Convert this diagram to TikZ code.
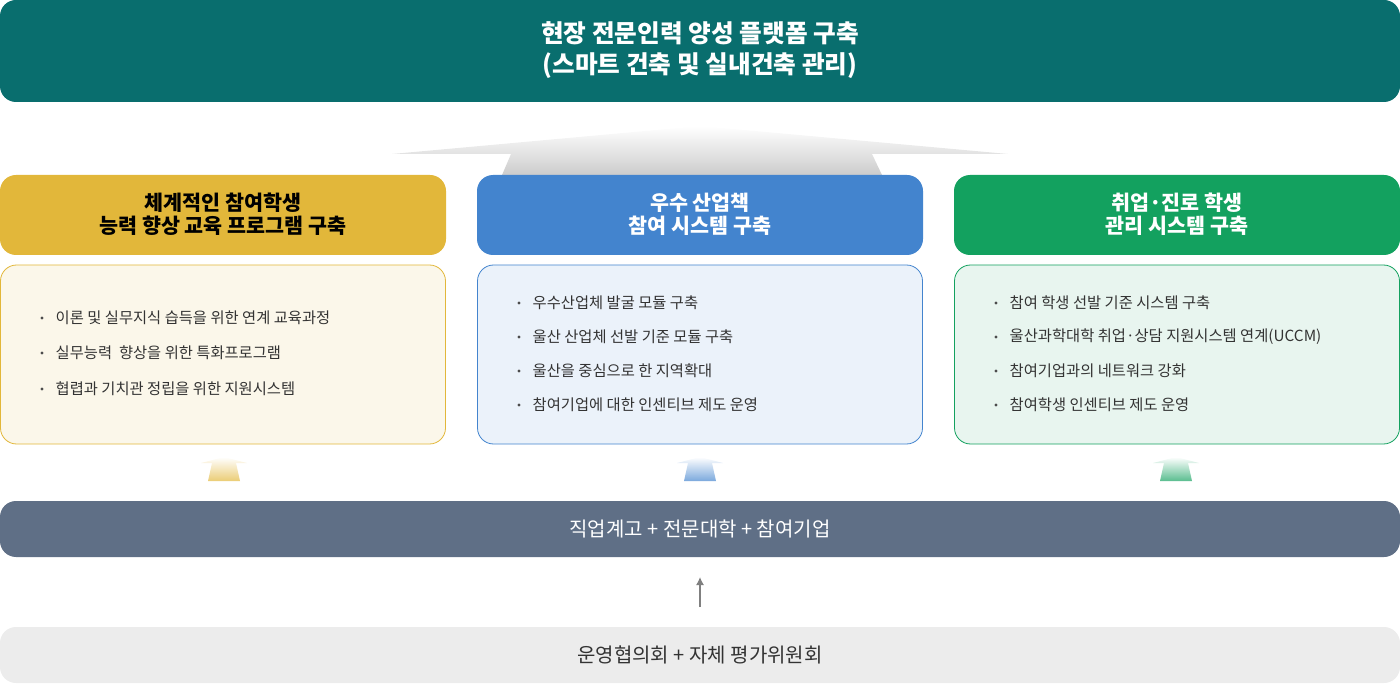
\documentclass[tikz,border=0pt]{standalone}
\usepackage{fontspec}
\setmainfont{Noto Sans CJK KR}
\usetikzlibrary{positioning,arrows.meta}
\definecolor{teal1}{HTML}{096E6E}
\definecolor{yel}{HTML}{E2B73A}
\definecolor{blu}{HTML}{4384CE}
\definecolor{grn}{HTML}{13A15F}
\definecolor{yelbg}{HTML}{FBF7EA}
\definecolor{blubg}{HTML}{EBF2FA}
\definecolor{grnbg}{HTML}{E8F5EF}
\definecolor{slate}{HTML}{5F6F86}
\definecolor{lgray}{HTML}{ECECEC}
\begin{document}
\begin{tikzpicture}[x=0.75pt,y=-0.75pt,
 box/.style={rounded corners=12pt,draw=none},
 ttl/.style={font=\bfseries\fontsize{15.5}{17.5}\selectfont,align=center},
 itm/.style={anchor=west,font=\fontsize{11.5}{13}\selectfont,text=black!80},
 bul/.style={circle,fill=black!70,inner sep=0pt,minimum size=2.5pt}]
\useasboundingbox (0,0) rectangle (1400,684);
% header
\fill[teal1,rounded corners=12pt] (0,0) rectangle (1400,102);
\node[ttl,text=white,font=\bfseries\fontsize{18.5}{23}\selectfont] (hdr) at (700,50) {현장 전문인력 양성 플랫폼 구축\\(스마트 건축 및 실내건축 관리)};
% big arrow
\shade[top color=white,bottom color=black!20] (700,126) -- (1008,154) -- (872,154) -- (882,175) -- (502,175) -- (511,154) -- (392,154) -- cycle;
% title boxes
\fill[yel,rounded corners=12pt] (0,175) rectangle (446,255);
\fill[blu,rounded corners=12pt] (477,175) rectangle (923,255);
\fill[grn,rounded corners=12pt] (954,175) rectangle (1400,255);
\node[ttl,text=black] (t1) at (223,214) {체계적인 참여학생\\능력 향상 교육 프로그램 구축};
\node[ttl,text=white] (t2) at (700,214) {우수 산업책\\참여 시스템 구축};
\node[ttl,text=white] (t3) at (1177,214) {취업·진로 학생\\관리 시스템 구축};
% content boxes
\filldraw[fill=yelbg,draw=yel,line width=0.6pt,rounded corners=12pt] (0.5,265) rectangle (445.5,444);
\filldraw[fill=blubg,draw=blu,line width=0.6pt,rounded corners=12pt] (477.5,265) rectangle (922.5,444);
\filldraw[fill=grnbg,draw=grn,line width=0.6pt,rounded corners=12pt] (954.5,265) rectangle (1399.5,444);
\foreach \y/\t [count=\i] in {318/이론 및 실무지식 습득을 위한 연계 교육과정,353/실무능력\ \ 향상을 위한 특화프로그램,389/협렵과 기치관 정립을 위한 지원시스템}{
 \node[bul] (ba\i) at (42,\y) {}; \node[itm] (ia\i) at (51,\y) {\t};}
\foreach \y/\t [count=\i] in {303/우수산업체 발굴 모듈 구축,337/울산 산업체 선발 기준 모듈 구축,371/울산을 중심으로 한 지역확대,405/참여기업에 대한 인센티브 제도 운영}{
 \node[bul] (bb\i) at (519,\y) {}; \node[itm] (ib\i) at (528,\y) {\t};}
\foreach \y/\t [count=\i] in {303/참여 학생 선발 기준 시스템 구축,337/울산과학대학 취업·상담 지원시스템 연계(UCCM),371/참여기업과의 네트워크 강화,405/참여학생 인센티브 제도 운영}{
 \node[bul] (bc\i) at (996,\y) {}; \node[itm] (ic\i) at (1005,\y) {\t};}
% small arrows
\foreach \cx/\c in {224/yel,700/blu,1176/grn}{
 \shade[top color=white,bottom color=\c!70] (\cx,457) -- (\cx+23,463) -- (\cx+12,463) -- (\cx+16,481) -- (\cx-16,481) -- (\cx-12,463) -- (\cx-23,463) -- cycle;}
% bottom bars
\fill[slate,rounded corners=12pt] (0,501) rectangle (1400,557);
\node[text=white,font=\fontsize{15}{17}\selectfont] (b1) at (700,529) {직업계고 + 전문대학 + 참여기업};
\fill[lgray,rounded corners=12pt] (0,627) rectangle (1400,683);
\node[text=black!80,font=\fontsize{15}{17}\selectfont] (b2) at (700,655) {운영협의회 + 자체 평가위원회};
\coordinate (a0) at (700,607); \coordinate (a1) at (700,577);
\draw[black!50,line width=1pt,-{Latex[length=6pt,width=6pt]}] (a0) -- (a1);
\end{tikzpicture}
\end{document}
